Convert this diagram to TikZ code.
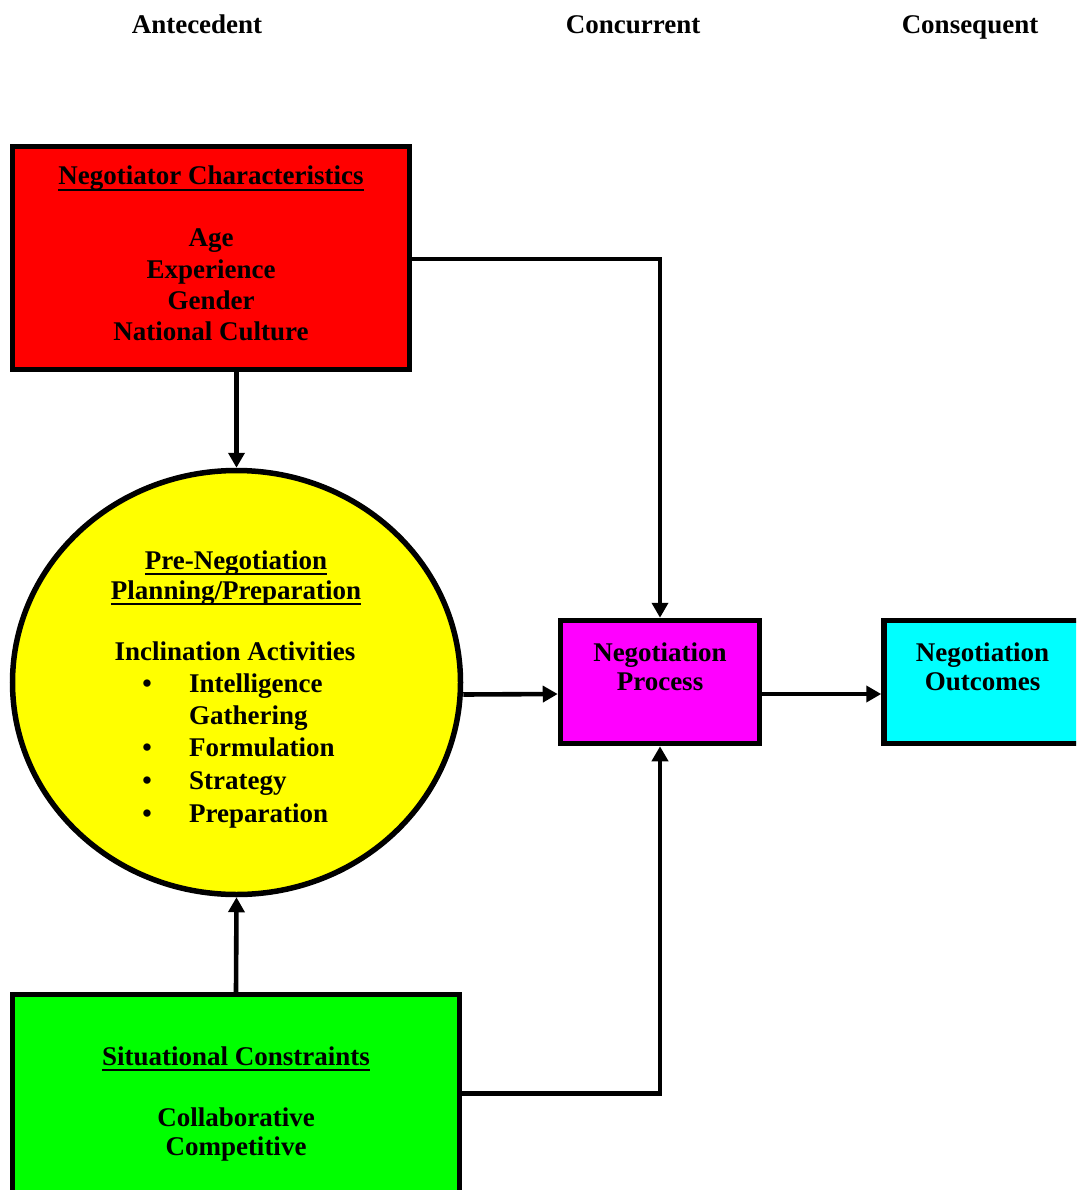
\documentclass[tikz,border=0pt]{standalone}
\usepackage{fontspec}
\setmainfont{Liberation Serif}
\usetikzlibrary{shapes.geometric,arrows.meta}
\definecolor{boxred}{RGB}{255,0,0}
\definecolor{boxyellow}{RGB}{255,255,0}
\definecolor{boxmagenta}{RGB}{255,0,255}
\definecolor{boxcyan}{RGB}{0,255,255}
\definecolor{boxgreen}{RGB}{0,255,0}
\newcommand\myul[1]{\setbox0\hbox{#1}\rlap{\vrule height -3.6pt depth 5.6pt width \wd0}\box0}
\begin{document}
\begin{tikzpicture}[x=1pt,y=-1pt,
  every node/.style={font=\fontsize{27}{31}\selectfont\bfseries},
  txt/.style={anchor=base, inner sep=0pt},
  item/.style={anchor=base west, inner sep=0pt},
  box/.style={draw=black, line width=5.5pt, rectangle, inner sep=0pt},
  conn/.style={line width=4.6pt, -{Triangle[length=15pt,width=16pt]}}]
\useasboundingbox (0,0) rectangle (1076,1190);
\clip (0,0) rectangle (1076,1190);
% shapes
\node[box, fill=boxred, minimum width=397pt, minimum height=223pt] (nc) at (211,258) {};
\node[box, ellipse, fill=boxyellow, minimum width=448pt, minimum height=424pt] (pp) at (236.5,682.5) {};
\node[box, fill=boxmagenta, minimum width=199pt, minimum height=123pt] (np) at (660,682) {};
\node[box, fill=boxcyan, minimum width=210pt, minimum height=123pt] (no) at (989,682) {};
\node[box, fill=boxgreen, minimum width=447pt, minimum height=220pt] (sc) at (236,1104.5) {};
% connectors
\draw[conn] (pp.north |- nc.south) -- (pp.north);
\draw[conn] ([yshift=-1pt]nc.east) -| (np.north);
\draw[conn] ([yshift=-12pt]pp.east) -- ([yshift=-12pt]np.west);
\draw[conn] ([yshift=-12pt]np.east) -- ([yshift=-12pt]no.west);
\draw[conn] (sc.north) -- (pp.south);
\draw[conn] ([yshift=11pt]sc.east) -| (np.south);
% headers
\node[txt] (h1) at (197,34) {Antecedent};
\node[txt] (h2) at (633,34) {Concurrent};
\node[txt] (h3) at (970,34) {Consequent};
% red box text
\node[txt] (nct) at (211,185) {\myul{Negotiator Characteristics}};
\node[txt] (nc1) at (211,247) {Age};
\node[txt] (nc2) at (211,278) {Experience};
\node[txt] (nc3) at (211,309) {Gender};
\node[txt] (nc4) at (211,340) {National Culture};
% circle text
\node[txt] (ppt1) at (236,569) {\myul{Pre-Negotiation}};
\node[txt] (ppt2) at (236,599) {\myul{Planning/Preparation}};
\node[txt] (ppa) at (235,660) {Inclination Activities};
\node[txt] (b1) at (147,692) {•};
\node[txt] (b2) at (147,756) {•};
\node[txt] (b3) at (147,789) {•};
\node[txt] (b4) at (147,822) {•};
\node[item] (i1) at (189,692) {Intelligence};
\node[item] (i1b) at (189,724) {Gathering};
\node[item] (i2) at (189,756) {Formulation};
\node[item] (i3) at (189,789) {Strategy};
\node[item] (i4) at (189,822) {Preparation};
% process / outcomes
\node[txt] (np1) at (660,661) {Negotiation};
\node[txt] (np2) at (660,690) {Process};
\node[txt] (no1) at (982.5,661) {Negotiation};
\node[txt] (no2) at (982.5,690) {Outcomes};
% green box text
\node[txt] (sct) at (236,1065) {\myul{Situational Constraints}};
\node[txt] (sc1) at (236,1126) {Collaborative};
\node[txt] (sc2) at (236,1155) {Competitive};
\end{tikzpicture}
\end{document}
